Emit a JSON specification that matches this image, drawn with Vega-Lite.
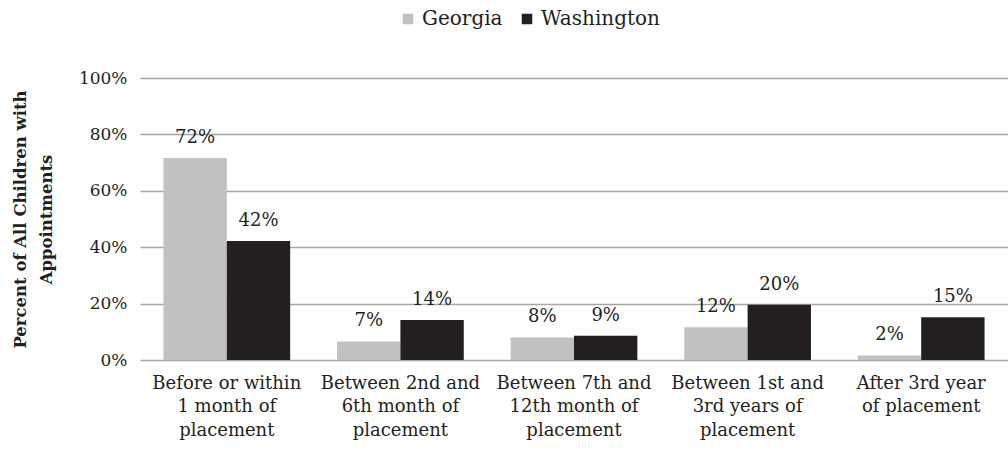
{
  "$schema": "https://vega.github.io/schema/vega-lite/v6.json",
  "autosize": "none",
  "padding": {"left": 140, "top": 78, "right": 0, "bottom": 97},
  "width": 868,
  "height": 282,
  "config": {
    "font": "DejaVu Serif",
    "view": {"stroke": null},
    "axis": {"labelColor": "#231f20", "titleColor": "#231f20", "labelFont": "DejaVu Serif", "titleFont": "DejaVu Serif"},
    "legend": {"labelFont": "DejaVu Serif"}
  },
  "data": {
    "values": [
      {"period": "Before or within|1 month of|placement", "state": "Georgia", "value": 0.716},
      {"period": "Before or within|1 month of|placement", "state": "Washington", "value": 0.422},
      {"period": "Between 2nd and|6th month of|placement", "state": "Georgia", "value": 0.066},
      {"period": "Between 2nd and|6th month of|placement", "state": "Washington", "value": 0.142},
      {"period": "Between 7th and|12th month of|placement", "state": "Georgia", "value": 0.080},
      {"period": "Between 7th and|12th month of|placement", "state": "Washington", "value": 0.086},
      {"period": "Between 1st and|3rd years of|placement", "state": "Georgia", "value": 0.116},
      {"period": "Between 1st and|3rd years of|placement", "state": "Washington", "value": 0.196},
      {"period": "After 3rd year|of placement", "state": "Georgia", "value": 0.016},
      {"period": "After 3rd year|of placement", "state": "Washington", "value": 0.152}
    ]
  },
  "encoding": {
    "x": {
      "field": "period",
      "type": "nominal",
      "sort": null,
      "scale": {"paddingInner": 0.27, "paddingOuter": 0.135},
      "axis": {
        "title": null,
        "labelAngle": 0,
        "domain": false,
        "ticks": false,
        "labelPadding": 14,
        "labelFontSize": 18,
        "labelLineHeight": 23.5,
        "labelExpr": "split(datum.label, '|')"
      }
    },
    "xOffset": {
      "field": "state",
      "type": "nominal",
      "sort": ["Georgia", "Washington"],
      "scale": {"paddingInner": 0, "paddingOuter": 0}
    },
    "y": {
      "field": "value",
      "type": "quantitative",
      "scale": {"domain": [0, 1], "nice": false},
      "axis": {
        "title": ["Percent of All Children with", "Appointments"],
        "titleFontWeight": "bold",
        "titleFontSize": 16.5,
        "titleLineHeight": 26,
        "titleX": -112,
        "titleY": 141,
        "titleBaseline": "bottom",
        "titleAngle": -90,
        "format": ".0%",
        "values": [0, 0.2, 0.4, 0.6, 0.8, 1],
        "labelFontSize": 17,
        "labelPadding": 13,
        "domain": false,
        "ticks": false,
        "grid": true,
        "gridColor": "#a6a6a6",
        "gridWidth": 1.6
      }
    }
  },
  "layer": [
    {
      "mark": {"type": "bar"},
      "encoding": {
        "color": {
          "field": "state",
          "type": "nominal",
          "sort": ["Georgia", "Washington"],
          "scale": {"domain": ["Georgia", "Washington"], "range": ["#c0c1c3", "#231f20"]},
          "legend": {
            "title": null,
            "orient": "none",
            "legendX": 258,
            "legendY": -69,
            "direction": "horizontal",
            "symbolType": "square",
            "symbolSize": 110,
            "symbolStrokeWidth": 0,
            "labelFontSize": 20,
            "labelColor": "#231f20",
            "labelOffset": 4,
            "columnPadding": 14,
            "padding": 0
          }
        }
      }
    },
    {
      "mark": {"type": "text", "baseline": "alphabetic", "dy": -15, "fontSize": 18, "color": "#231f20"},
      "encoding": {
        "text": {"field": "value", "type": "quantitative", "format": ".0%"}
      }
    }
  ]
}
